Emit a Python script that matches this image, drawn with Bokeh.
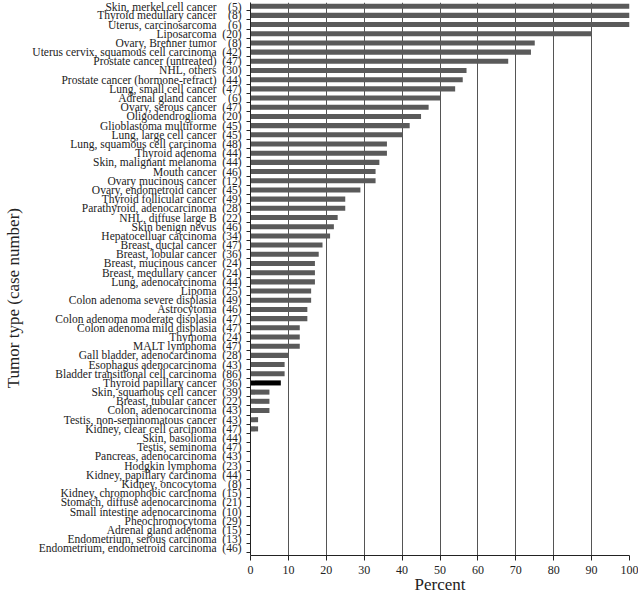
from bokeh.plotting import figure
from bokeh.models import Range1d, FixedTicker, ColumnDataSource
from bokeh.embed import file_html
from bokeh.resources import INLINE

tumor_types = [
    "Skin, merkel cell cancer", "Thyroid medullary cancer", "Uterus, carcinosarcoma",
    "Liposarcoma", "Ovary, Brenner tumor", "Uterus cervix, squamous cell carcinoma",
    "Prostate cancer (untreated)", "NHL, others", "Prostate cancer (hormone-refract)",
    "Lung, small cell cancer", "Adrenal gland cancer", "Ovary, serous cancer",
    "Oligodendroglioma", "Glioblastoma multiforme", "Lung, large cell cancer",
    "Lung, squamous cell carcinoma", "Thyroid adenoma", "Skin, malignant melanoma",
    "Mouth cancer", "Ovary mucinous cancer", "Ovary, endometroid cancer",
    "Thyroid follicular cancer", "Parathyroid, adenocarcinoma", "NHL, diffuse large B",
    "Skin benign nevus", "Hepatocelluar carcinoma", "Breast, ductal cancer",
    "Breast, lobular cancer", "Breast, mucinous cancer", "Breast, medullary cancer",
    "Lung, adenocarcinoma", "Lipoma", "Colon adenoma severe displasia",
    "Astrocytoma", "Colon adenoma moderate displasia", "Colon adenoma mild displasia",
    "Thymoma", "MALT lymphoma", "Gall bladder, adenocarcinoma",
    "Esophagus adenocarcinoma", "Bladder transitional cell carcinoma", "Thyroid papillary cancer",
    "Skin, squamous cell cancer", "Breast, tubular cancer", "Colon, adenocarcinoma",
    "Testis, non-seminomatous cancer", "Kidney, clear cell carcinoma", "Skin, basolioma",
    "Testis, seminoma", "Pancreas, adenocarcinoma", "Hodgkin lymphoma",
    "Kidney, papillary carcinoma", "Kidney, oncocytoma", "Kidney, chromophobic carcinoma",
    "Stomach, diffuse adenocarcinoma", "Small intestine adenocarcinoma", "Pheochromocytoma",
    "Adrenal gland adenoma", "Endometrium, serous carcinoma", "Endometrium, endometroid carcinoma",
]
case_numbers = [
    5, 8, 6, 20, 8, 42, 47, 30, 44, 47, 6, 47, 20, 45, 45, 48, 44, 44, 46, 12,
    45, 49, 28, 22, 46, 34, 47, 36, 24, 24, 44, 25, 49, 46, 47, 47, 24, 47, 28, 43,
    86, 36, 39, 22, 43, 43, 47, 44, 47, 43, 23, 44, 8, 15, 21, 10, 29, 15, 13, 46,
]
percents = [
    100, 100, 100, 90, 75, 74, 68, 57, 56, 54, 50, 47, 45, 42, 40, 36, 36, 34, 33, 33,
    29, 25, 25, 23, 22, 21, 19, 18, 17, 17, 17, 16, 16, 15, 15, 13, 13, 13, 10, 9,
    9, 8, 5, 5, 5, 2, 2, 0, 0, 0, 0, 0, 0, 0, 0, 0, 0, 0, 0, 0,
]
x_ticks = [0, 10, 20, 30, 40, 50, 60, 70, 80, 90, 100]
highlight = "Thyroid papillary cancer"

n = len(tumor_types)
ypos = list(range(n))
colors = ["#000000" if t == highlight else "#5a5a5a" for t in tumor_types]

NB = "\u00a0"
labels = {}
for i, (t, c) in enumerate(zip(tumor_types, case_numbers)):
    pad = NB * 2 if c >= 10 else NB * 4
    labels[i] = f"{t}{pad}({c})"

src = ColumnDataSource(dict(y=ypos, right=percents, color=colors))

p = figure(width=638, height=596, output_backend="svg", toolbar_location=None,
           x_range=Range1d(0, 100), y_range=Range1d(59.78, -0.4),
           min_border_left=250, min_border_right=9, min_border_top=2, min_border_bottom=0)
p.outline_line_color = None
p.background_fill_color = "white"

p.hbar(y="y", left=0, right="right", height=0.55, fill_color="color",
       line_color=None, source=src)

# x axis
p.xaxis.ticker = FixedTicker(ticks=x_ticks)
p.xaxis.major_tick_out = 5
p.xaxis.major_tick_in = 0
p.xaxis.minor_tick_line_color = None
p.xaxis.axis_line_color = "#222222"
p.xaxis.major_tick_line_color = "#222222"
p.xaxis.major_label_text_font = "Liberation Serif"
p.xaxis.major_label_text_font_size = "12px"
p.xaxis.major_label_text_color = "#222222"
p.xaxis.major_label_standoff = 5
p.xaxis.axis_label = "Percent"
p.xaxis.axis_label_text_font = "Liberation Serif"
p.xaxis.axis_label_text_font_size = "17px"
p.xaxis.axis_label_text_font_style = "normal"
p.xaxis.axis_label_text_color = "#222222"
p.xaxis.axis_label_standoff = -2

# y axis
p.yaxis.ticker = FixedTicker(ticks=ypos, minor_ticks=[i + 0.5 for i in range(-1, n)])
p.yaxis.major_label_overrides = labels
p.yaxis.major_tick_line_color = None
p.yaxis.major_tick_out = 0
p.yaxis.major_tick_in = 0
p.yaxis.minor_tick_out = 4
p.yaxis.minor_tick_in = 0
p.yaxis.minor_tick_line_color = "#222222"
p.yaxis.axis_line_color = "#222222"
p.yaxis.major_label_text_font = "Liberation Serif"
p.yaxis.major_label_text_font_size = "11.5px"
p.yaxis.major_label_text_color = "#222222"
p.yaxis.major_label_standoff = 5
p.yaxis.axis_label = "Tumor type (case number)" + NB * 9
p.yaxis.axis_label_text_font = "Liberation Serif"
p.yaxis.axis_label_text_font_size = "17px"
p.yaxis.axis_label_text_font_style = "normal"
p.yaxis.axis_label_text_color = "#222222"
p.yaxis.axis_label_standoff = 6

# grid
p.ygrid.grid_line_color = None
p.xgrid.ticker = FixedTicker(ticks=x_ticks[1:-1])
p.xgrid.grid_line_color = "#555555"
p.xgrid.grid_line_width = 1

open("out.html", "w").write(file_html(p, INLINE))
